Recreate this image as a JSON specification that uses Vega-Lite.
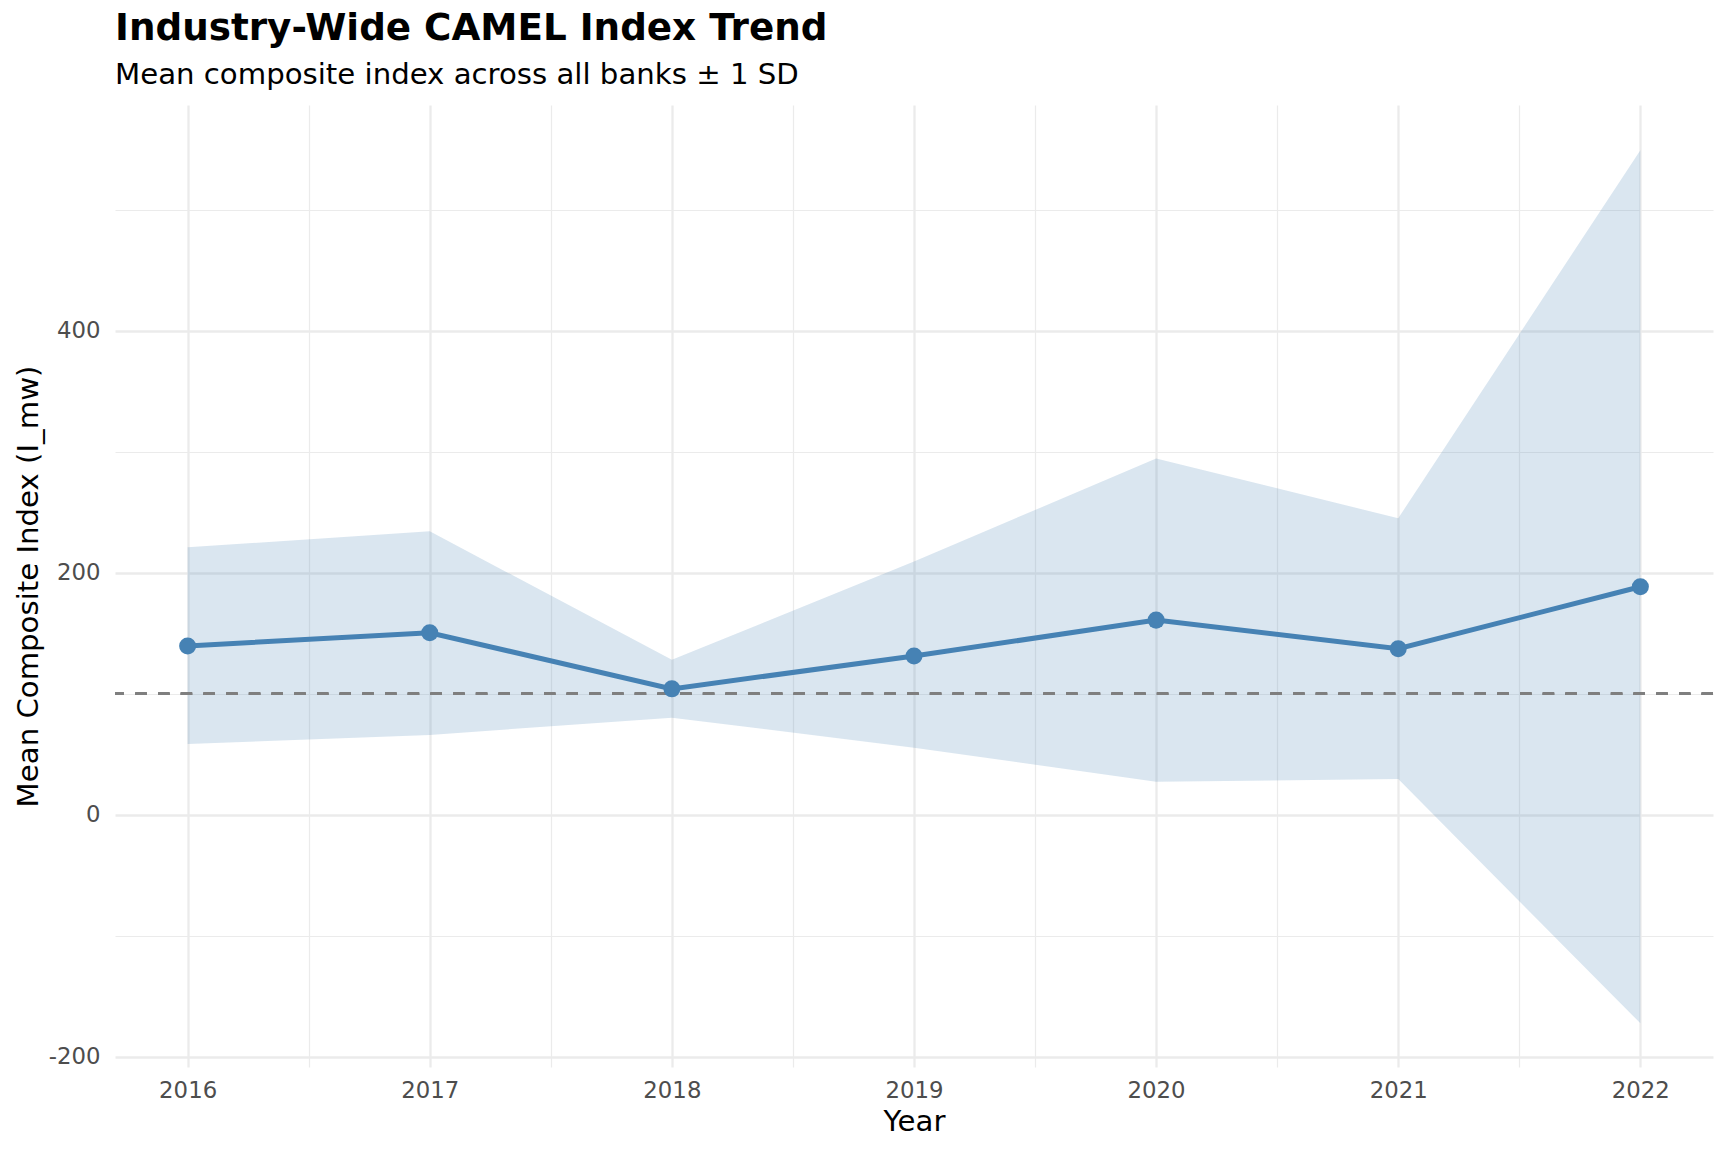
{
  "$schema": "https://vega.github.io/schema/vega-lite/v6.json",
  "width": 1598,
  "height": 962,
  "autosize": {"type": "none"},
  "padding": {"left": 115, "top": 105, "right": 15, "bottom": 85},
  "background": "white",
  "config": {"font": "DejaVu Sans", "view": {"stroke": null}},
  "title": {
    "text": "Industry-Wide CAMEL Index Trend",
    "subtitle": "Mean composite index across all banks ± 1 SD",
    "anchor": "start",
    "frame": "group",
    "font": "DejaVu Sans",
    "fontSize": 37.3,
    "fontWeight": "bold",
    "color": "#000000",
    "subtitleFont": "DejaVu Sans",
    "subtitleFontSize": 29.2,
    "subtitleColor": "#000000",
    "subtitlePadding": 12.4,
    "offset": 14
  },
  "data": {
    "values": [
      {"year": 2016, "mean": 139.4, "lower": 58.4, "upper": 221.0},
      {"year": 2017, "mean": 150.4, "lower": 65.9, "upper": 234.2},
      {"year": 2018, "mean": 104.0, "lower": 80.2, "upper": 128.0},
      {"year": 2019, "mean": 131.2, "lower": 55.3, "upper": 209.2},
      {"year": 2020, "mean": 160.8, "lower": 27.3, "upper": 294.4},
      {"year": 2021, "mean": 137.2, "lower": 29.5, "upper": 245.0},
      {"year": 2022, "mean": 188.4, "lower": -172.4, "upper": 549.2}
    ]
  },
  "layer": [
    {
      "mark": {"type": "area", "color": "#4682B4", "fillOpacity": 0.2, "opacity": 1},
      "encoding": {
        "x": {
          "field": "year",
          "type": "quantitative",
          "scale": {"domain": [2015.7, 2022.3], "nice": false, "zero": false},
          "axis": {
            "title": "Year",
            "values": [2016, 2016.5, 2017, 2017.5, 2018, 2018.5, 2019, 2019.5, 2020, 2020.5, 2021, 2021.5, 2022],
            "labelExpr": "datum.value % 1 === 0 ? '' + datum.value : ''",
            "labelOverlap": false,
            "labelFlush": false,
            "domain": false,
            "ticks": false,
            "tickSize": 0,
            "labelPadding": 12,
            "labelFontSize": 22.8,
            "labelColor": "#4d4d4d",
            "titleFontSize": 29.2,
            "titleFontWeight": "normal",
            "titleColor": "#000000",
            "titlePadding": 6,
            "grid": true,
            "gridColor": "#ebebeb",
            "gridWidth": {"condition": {"test": "datum.value % 1 === 0", "value": 2.3}, "value": 1.2}
          }
        },
        "y": {
          "field": "lower",
          "type": "quantitative",
          "scale": {"domain": [-208.5, 586.5], "nice": false, "zero": false},
          "axis": {
            "title": "Mean Composite Index (I_mw)",
            "values": [-200, -100, 0, 100, 200, 300, 400, 500],
            "labelExpr": "datum.value % 200 === 0 ? '' + datum.value : ''",
            "labelOverlap": false,
            "labelFlush": false,
            "domain": false,
            "ticks": false,
            "tickSize": 0,
            "labelPadding": 15,
            "labelFontSize": 22.8,
            "labelColor": "#4d4d4d",
            "titleFontSize": 29.2,
            "titleFontWeight": "normal",
            "titleColor": "#000000",
            "titlePadding": 5,
            "grid": true,
            "gridColor": "#ebebeb",
            "gridWidth": {"condition": {"test": "datum.value % 200 === 0", "value": 2.3}, "value": 1.2}
          }
        },
        "y2": {"field": "upper"}
      }
    },
    {
      "mark": {"type": "rule", "color": "#7f7f7f", "strokeWidth": 2.6, "strokeDash": [11.3, 11.4]},
      "encoding": {
        "y": {"datum": 100, "type": "quantitative"}
      }
    },
    {
      "mark": {"type": "line", "color": "#4682B4", "strokeWidth": 5},
      "encoding": {
        "x": {"field": "year", "type": "quantitative"},
        "y": {"field": "mean", "type": "quantitative"}
      }
    },
    {
      "mark": {"type": "point", "filled": true, "color": "#4682B4", "opacity": 1, "size": 290},
      "encoding": {
        "x": {"field": "year", "type": "quantitative"},
        "y": {"field": "mean", "type": "quantitative"}
      }
    }
  ]
}
